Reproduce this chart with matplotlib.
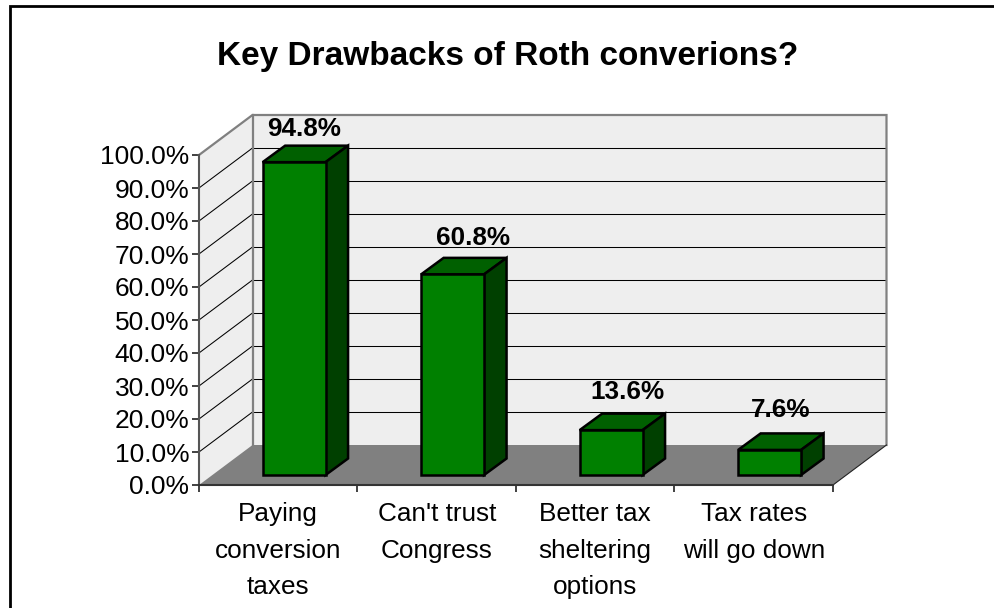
import matplotlib
matplotlib.use('Agg')
import matplotlib.pyplot as plt
import numpy as np
from matplotlib.lines import Line2D
from matplotlib.patches import Polygon

categories = ['Paying\nconversion\ntaxes', "Can't trust\nCongress",
              'Better tax\nsheltering\noptions', 'Tax rates\nwill go down']
values = [94.8, 60.8, 13.6, 7.6]
y_ticks = [0, 10, 20, 30, 40, 50, 60, 70, 80, 90, 100]

plt.rcParams['font.family'] = ['Liberation Sans', 'DejaVu Sans']

W, H = 995, 608
fig = plt.figure(figsize=(W / 100, H / 100), dpi=100, facecolor='white')
# front plane of the fake 3d box, in pixels
ax = fig.add_axes([199 / W, (H - 485) / H, 634 / W, 330 / H])
ax.set_xlim(0, 4)
ax.set_ylim(0, 100)
ax.patch.set_visible(False)

# box depth in data units
dx = 53.5 / 158.5
dy = 40 / 3.3
# bars sit a bit inside the box
bar_w = 0.397
bar_dx = 0.1
bar_dy = 10 / 3.3
bar_depth_x = 22.5 / 158.5
bar_depth_y = 16.5 / 3.3

wall = '#eeeeee'
edge = '#808080'

def poly(pts, fc, ec='none', lw=0, z=1):
    ax.add_patch(Polygon(pts, closed=True, fc=fc, ec=ec, lw=lw, zorder=z,
                         clip_on=False, joinstyle='miter'))

# walls and floor
poly([(dx, dy), (4 + dx, dy), (4 + dx, 100 + dy), (dx, 100 + dy)], wall)
poly([(0, 0), (dx, dy), (dx, 100 + dy), (0, 100)], wall)
poly([(0, 0), (4, 0), (4 + dx, dy), (dx, dy)], '#808080')

# gridlines run up the side wall and then along the back wall
for t in y_ticks[1:-1]:
    ax.plot([0, dx], [t, t + dy], color='black', lw=0.75, zorder=2, clip_on=False)
    ax.plot([dx, 4 + dx], [t + dy, t + dy], color='black', lw=0.75, zorder=2, clip_on=False)

ax.plot([0, dx, 4 + dx, 4 + dx], [100, 100 + dy, 100 + dy, dy], color=edge,
        lw=1.6, zorder=2, clip_on=False, solid_joinstyle='miter')
ax.plot([dx, dx], [dy, 100 + dy], color=edge, lw=1.6, zorder=2, clip_on=False)
ax.plot([4, 4 + dx], [0, dy], color='#222222', lw=0.8, zorder=2, clip_on=False)

# bars: front face from ax.bar, top and side as polygons
x = np.arange(len(values)) + 0.5 + bar_dx
ax.bar(x, values, width=bar_w, bottom=bar_dy, color='#008000', edgecolor='black',
       linewidth=1.8, zorder=5, clip_on=False)
for xi, v in zip(x, values):
    x0, x1 = xi - bar_w / 2, xi + bar_w / 2
    y0, y1 = bar_dy, bar_dy + v
    poly([(x0, y1), (x1, y1), (x1 + bar_depth_x, y1 + bar_depth_y),
          (x0 + bar_depth_x, y1 + bar_depth_y)], '#006000', 'black', 1.8, 4)
    poly([(x1, y0), (x1 + bar_depth_x, y0 + bar_depth_y),
          (x1 + bar_depth_x, y1 + bar_depth_y), (x1, y1)], '#004000', 'black', 1.8, 4)

# value labels, nudged in pixels from the top of each bar
label_dx = [-1, 9, 5, 0]
label_dy = [10, 13, 15, 16]
for xi, v, ox, oy in zip(x, values, label_dx, label_dy):
    ax.annotate(f'{v:.1f}%', xy=(xi + bar_depth_x / 2, bar_dy + v + bar_depth_y),
                xytext=(ox * 0.72, oy * 0.72), textcoords='offset points',
                ha='center', va='baseline', fontsize=18.8, fontweight='bold',
                zorder=6, annotation_clip=False)

# axes lines and ticks
for s in ['top', 'right']:
    ax.spines[s].set_visible(False)
ax.spines['left'].set_color('#555555')
ax.spines['left'].set_linewidth(1.5)
ax.spines['bottom'].set_color('#333333')
ax.spines['bottom'].set_linewidth(1.5)
ax.spines['left'].set_zorder(3)
ax.spines['bottom'].set_zorder(3)

ax.set_yticks(y_ticks)
ax.set_yticklabels([f'{t:.1f}%' for t in y_ticks])
ax.tick_params(axis='y', labelsize=19, length=5, width=1.3, color='#333333', pad=2)

ax.set_xticks(np.arange(len(categories) + 1))
ax.set_xticklabels([])
ax.set_xticks(np.arange(len(categories)) + 0.5, minor=True)
ax.set_xticklabels(categories, minor=True, fontsize=18.8, linespacing=1.64)
ax.tick_params(axis='x', which='major', length=5, width=1.3, color='#333333')
ax.tick_params(axis='x', which='minor', length=0, pad=12.5)

fig.text(508 / W, 1 - 65 / H, 'Key Drawbacks of Roth converions?', ha='center',
         va='baseline', fontsize=24, fontweight='bold')

# chart border, cut off by the image edge at the bottom and right
fig.add_artist(Line2D([10 / W, 10 / W, 1], [0, 1 - 6 / H, 1 - 6 / H], color='black',
                      lw=2, solid_joinstyle='miter', transform=fig.transFigure))

fig.savefig('out.png', dpi=100)
